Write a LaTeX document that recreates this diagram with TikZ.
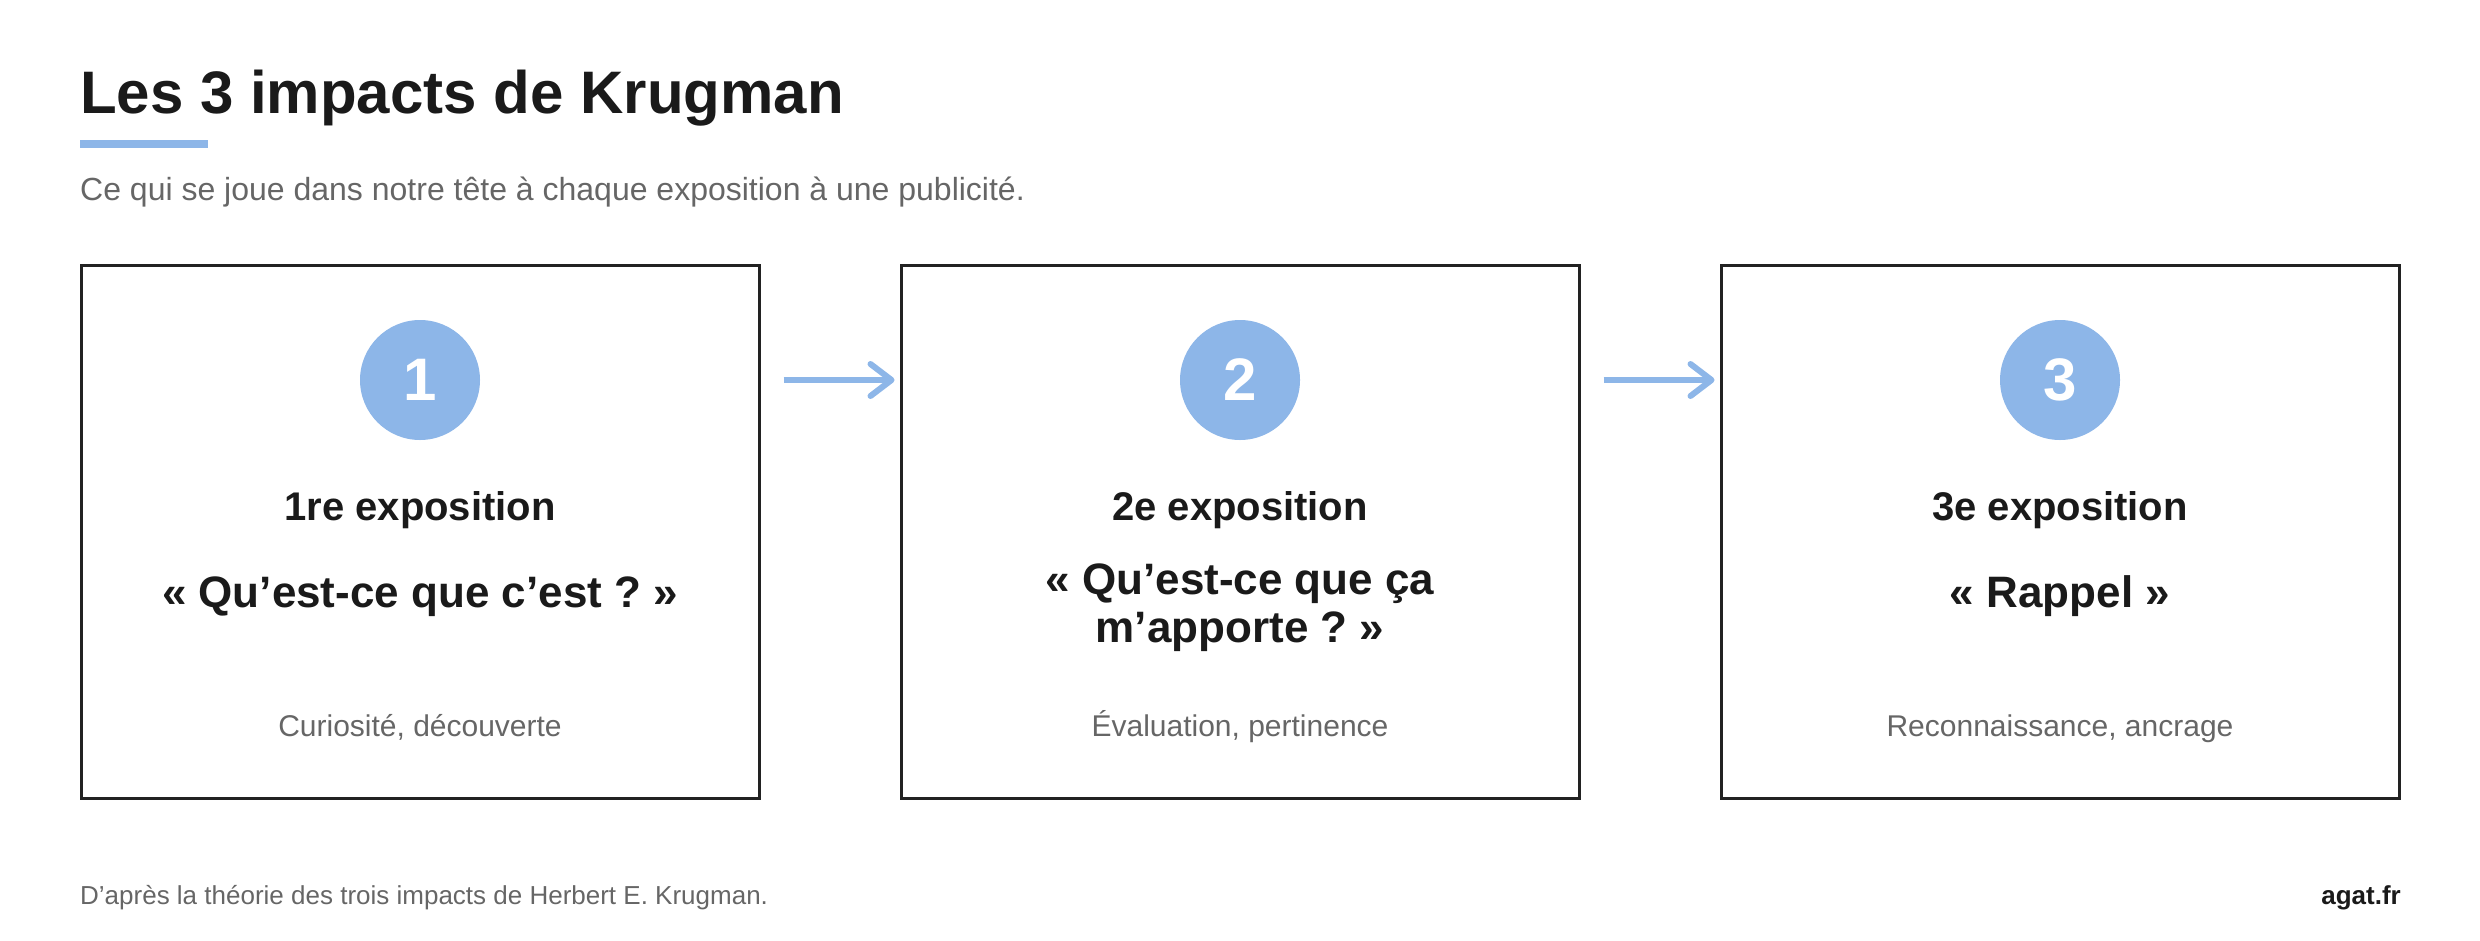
\documentclass[tikz,border=0pt]{standalone}
\usepackage{fontspec}
\setmainfont{Liberation Sans}
\usetikzlibrary{arrows.meta}
\definecolor{krugblue}{HTML}{8DB6E8}
\definecolor{textdark}{HTML}{1A1A1A}
\definecolor{textgray}{HTML}{666666}
\definecolor{boxline}{HTML}{222222}
\tikzset{
  stagebox/.style={draw=boxline, line width=3pt, minimum width=678pt, minimum height=533pt, inner sep=0pt},
  numdisc/.style={circle, fill=krugblue, minimum size=120pt, inner sep=0pt, text=white, font=\fontsize{60}{72}\selectfont\bfseries},
  stagehead/.style={anchor=base, inner sep=0pt, text=textdark, font=\fontsize{40}{48}\selectfont\bfseries},
  stagequote/.style={anchor=base, inner sep=0pt, align=center, text=textdark, font=\fontsize{44}{48}\selectfont\bfseries},
  stagenote/.style={anchor=base, inner sep=0pt, text=textgray, font=\fontsize{30}{36}\selectfont},
  flowarrow/.style={draw=krugblue, line width=6pt, -{Straight Barb[length=21pt,width=32pt,round]}, shorten <=23pt, shorten >=5pt}
}
\begin{document}
\begin{tikzpicture}[x=1pt,y=-1pt]
\useasboundingbox (0,0) rectangle (2480,940);
% header
\node[anchor=base west, inner sep=0pt, text=textdark, font=\fontsize{60}{72}\selectfont\bfseries] (title) at (80,113) {Les 3 impacts de Krugman};
\fill[krugblue] (80,140) rectangle (208,148);
\node[anchor=base west, inner sep=0pt, text=textgray, font=\fontsize{32}{38}\selectfont] (subtitle) at (80,200) {Ce qui se joue dans notre tête à chaque exposition à une publicité.};
% stages
\node[stagebox] (box1) at (420,532) {};
\node[stagebox] (box2) at (1240,532) {};
\node[stagebox] (box3) at (2060,532) {};
\node[numdisc] (num1) at (420,380) {1};
\node[numdisc] (num2) at (1240,380) {2};
\node[numdisc] (num3) at (2060,380) {3};
\node[stagehead] (head1) at (420,520) {1re exposition};
\node[stagehead] (head2) at (1240,520) {2e exposition};
\node[stagehead] (head3) at (2060,520) {3e exposition};
\node[stagequote] (quote1) at (420,607) {«~Qu’est-ce que c’est~?~»};
\node[stagequote] (quote2) at (1240,642) {«~Qu’est-ce que ça\\m’apporte~?~»};
\node[stagequote] (quote3) at (2060,607) {«~Rappel~»};
\node[stagenote] (note1) at (420,736) {Curiosité, découverte};
\node[stagenote] (note2) at (1240,736) {Évaluation, pertinence};
\node[stagenote] (note3) at (2060,736) {Reconnaissance, ancrage};
\draw[flowarrow] (num1 -| box1.east) -- (num2 -| box2.west);
\draw[flowarrow] (num2 -| box2.east) -- (num3 -| box3.west);
% footer
\node[anchor=base west, inner sep=0pt, text=textgray, font=\fontsize{26}{32}\selectfont] (source) at (80,904) {D’après la théorie des trois impacts de Herbert E. Krugman.};
\node[anchor=base east, inner sep=0pt, text=textdark, font=\fontsize{26}{32}\selectfont\bfseries] (brand) at (2401,904) {agat.fr};
\end{tikzpicture}
\end{document}
